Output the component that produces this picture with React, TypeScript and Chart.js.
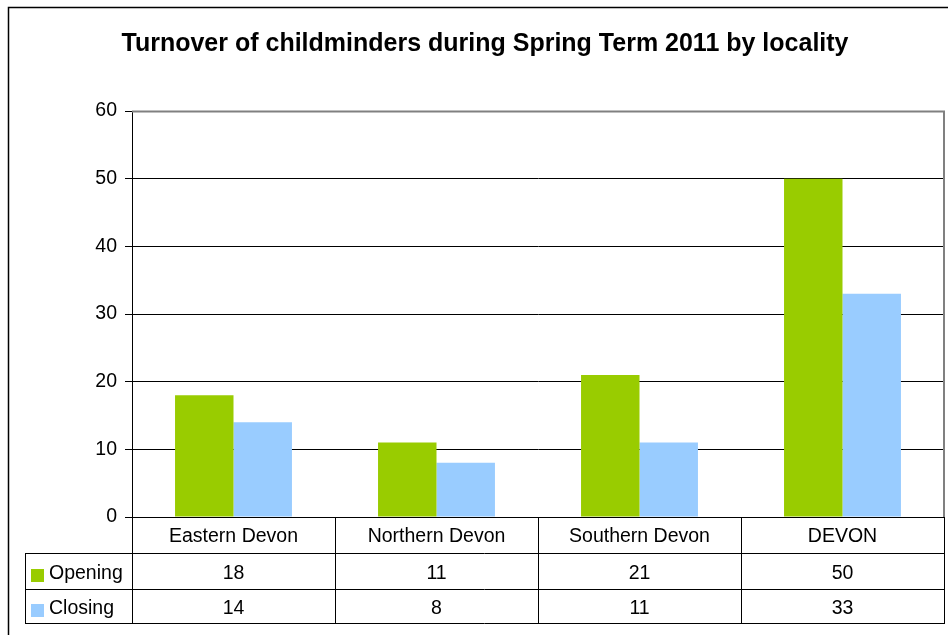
import React, { useEffect, useRef } from "react";
import { Chart, registerables } from "chart.js";

Chart.register(...registerables);

const TITLE = "Turnover of childminders during Spring Term 2011 by locality";
const categories = ["Eastern Devon", "Northern Devon", "Southern Devon", "DEVON"];
const seriesNames = ["Opening", "Closing"];
const opening = [18, 11, 21, 50];
const closing = [14, 8, 11, 33];
const seriesColors = ["#99CC00", "#99CCFF"];
const yTicks = [0, 10, 20, 30, 40, 50, 60];

const FONT = "Arial, 'Liberation Sans', sans-serif";
const FS = 19.5;

const tablePlugin = {
  id: "dataTable",
  afterDraw(chart: any) {
    const ctx = chart.ctx as CanvasRenderingContext2D;
    const xs = chart.scales.x;
    const area = chart.chartArea;
    const n = categories.length;
    const w = (area.right - area.left) / n;
    const rowTop = area.bottom + 36;
    const rowH = [36, 34];
    const legendLeft = 25;
    const series = [opening, closing];
    ctx.save();
    // outer frame
    ctx.strokeStyle = "#000";
    ctx.lineWidth = 1.5;
    ctx.strokeRect(8.5, 7.5, 1000, 1000);
    // title
    ctx.fillStyle = "#000";
    ctx.font = `bold 25px ${FONT}`;
    ctx.textAlign = "center";
    ctx.textBaseline = "alphabetic";
    ctx.fillText(TITLE, 485, 51);
    // plot border top/right
    ctx.strokeStyle = "#808080";
    ctx.lineWidth = 2;
    ctx.beginPath();
    ctx.moveTo(area.left, area.top + 0.5);
    ctx.lineTo(area.right, area.top + 0.5);
    ctx.lineTo(area.right, area.bottom);
    ctx.stroke();
    // table lines
    ctx.strokeStyle = "#000";
    ctx.lineWidth = 1;
    const y0 = area.bottom;
    const y1 = rowTop;
    const y2 = rowTop + rowH[0];
    const y3 = y2 + rowH[1];
    const hline = (y: number, x0: number, x1: number) => {
      ctx.beginPath();
      ctx.moveTo(x0, Math.round(y) + 0.5);
      ctx.lineTo(x1, Math.round(y) + 0.5);
      ctx.stroke();
    };
    const vline = (x: number, ya: number, yb: number) => {
      ctx.beginPath();
      ctx.moveTo(Math.round(x) + 0.5, ya);
      ctx.lineTo(Math.round(x) + 0.5, yb);
      ctx.stroke();
    };
    hline(y1, legendLeft, area.right);
    hline(y2, legendLeft, area.right);
    hline(y3, legendLeft, area.right);
    vline(legendLeft, y1, y3 + 1);
    for (let i = 0; i <= n; i++) {
      const x = i < n ? xs.getPixelForValue(i) - w / 2 : xs.getPixelForValue(n - 1) + w / 2;
      vline(x, y0, y3 + 1);
    }
    // legend + values
    ctx.font = `${FS}px ${FONT}`;
    ctx.textBaseline = "alphabetic";
    const rowYs = [y1, y2];
    for (let s = 0; s < series.length; s++) {
      const top = rowYs[s];
      const h = rowH[s];
      const base = top + h / 2 + 8;
      ctx.fillStyle = seriesColors[s];
      ctx.fillRect(31, base - 10, 13, 13);
      ctx.fillStyle = "#000";
      ctx.textAlign = "left";
      ctx.fillText(seriesNames[s], 49, base);
      ctx.textAlign = "center";
      for (let i = 0; i < n; i++) {
        ctx.fillText(String(series[s][i]), xs.getPixelForValue(i), base);
      }
    }
    ctx.restore();
  },
};

export default function App() {
  const ref = useRef<HTMLCanvasElement | null>(null);
  useEffect(() => {
    if (!ref.current) return;
    const chart = new Chart(ref.current, {
      type: "bar",
      data: {
        labels: categories,
        datasets: [
          {
            label: seriesNames[0],
            data: opening,
            backgroundColor: seriesColors[0],
            categoryPercentage: 0.576,
            barPercentage: 1,
          },
          {
            label: seriesNames[1],
            data: closing,
            backgroundColor: seriesColors[1],
            categoryPercentage: 0.576,
            barPercentage: 1,
          },
        ],
      },
      options: {
        responsive: false,
        animation: false,
        layout: { padding: { left: 8, top: 111, right: 4, bottom: 82 } },
        plugins: {
          legend: { display: false },
          title: { display: false },
          tooltip: { enabled: false },
        },
        scales: {
          x: {
            grid: { display: false, drawTicks: false },
            border: { display: true, color: "#000", width: 1 },
            ticks: { color: "#000", font: { family: FONT, size: FS }, padding: 8, maxRotation: 0 },
            afterFit(scale: any) {
              scale.height = 36;
            },
          },
          y: {
            min: 0,
            max: 60,
            afterBuildTicks(scale: any) {
              scale.ticks = yTicks.map((v) => ({ value: v }));
            },
            grid: {
              color: (c: any) => (c.tick && c.tick.value === 60 ? "rgba(0,0,0,0)" : "#000"),
              lineWidth: 1,
              tickLength: 7,
              tickColor: "#000",
            },
            border: { display: true, color: "#000", width: 1 },
            ticks: { color: "#000", font: { family: FONT, size: FS }, padding: 8 },
            afterFit(scale: any) {
              scale.width = 124;
            },
          },
        },
      },
      plugins: [tablePlugin],
    });
    return () => chart.destroy();
  }, []);
  return (
    <div style={{ position: "fixed", left: 0, top: 0, width: 948, height: 635, background: "#fff", overflow: "hidden" }}>
      <canvas ref={ref} width={948} height={635} style={{ display: "block" }} />
    </div>
  );
}
